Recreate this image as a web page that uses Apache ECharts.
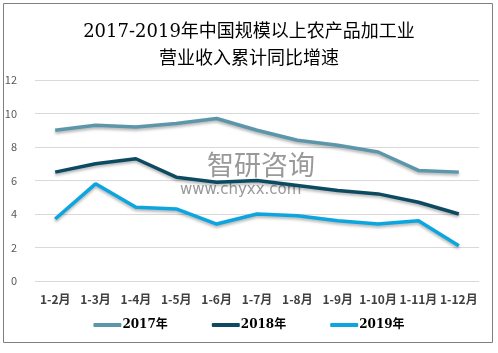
<!DOCTYPE html>
<html>
<head>
<meta charset="utf-8">
<script src="https://cdn.jsdelivr.net/npm/echarts@6/dist/echarts.min.js"></script>
<style>
html, body { margin: 0; padding: 0; background: #fff; }
#main { width: 498px; height: 353px; }
</style>
</head>
<body>
<div id="main"></div>
<script>
var myChart = echarts.init(document.getElementById('main'));

var months = ['1-2月', '1-3月', '1-4月', '1-5月', '1-6月', '1-7月', '1-8月', '1-9月', '1-10月', '1-11月', '1-12月'];
var data2017 = [9.0, 9.3, 9.2, 9.4, 9.7, 9.0, 8.4, 8.1, 7.7, 6.6, 6.5];
var data2018 = [6.5, 7.0, 7.3, 6.2, 5.9, 6.0, 5.7, 5.4, 5.2, 4.7, 4.0];
var data2019 = [3.7, 5.8, 4.4, 4.3, 3.4, 4.0, 3.9, 3.6, 3.4, 3.6, 2.1];

var color = ['#5b96ab', '#0c4a62', '#0ba6e0'];

function lineSeries(name, data, c) {
    return {
        name: name,
        type: 'line',
        data: data,
        symbol: 'none',
        lineStyle: {
            color: c,
            width: 3.5,
            shadowColor: 'rgba(0,0,0,0.3)',
            shadowBlur: 3,
            shadowOffsetY: 2
        },
        itemStyle: { color: c }
    };
}

option = {
    backgroundColor: '#ffffff',
    color: color,
    title: {
        text: '2017-2019年中国规模以上农产品加工业\n营业收入累计同比增速',
        left: 'center',
        top: 14,
        textStyle: {
            color: '#000000',
            fontFamily: 'DejaVu Serif, Noto Sans CJK SC',
            fontSize: 18,
            fontWeight: 'normal',
            lineHeight: 27
        }
    },
    graphic: [
        {
            type: 'rect',
            shape: { x: 3.5, y: 3.5, width: 489, height: 339 },
            style: { fill: 'none', stroke: '#7f7f7f', lineWidth: 1 },
            silent: true
        },
        {
            type: 'text',
            left: 207,
            top: 151,
            style: { text: '智研咨询', fill: 'rgba(110,110,110,0.7)', font: '27px Noto Sans CJK SC' },
            silent: true
        },
        {
            type: 'text',
            left: 180,
            top: 183,
            style: { text: 'www.chyxx.com', fill: 'rgba(110,110,110,0.7)', font: '15px DejaVu Sans' },
            silent: true
        }
    ],
    legend: {
        bottom: 17,
        left: 'center',
        itemWidth: 28,
        itemHeight: 4,
        itemGap: 44,
        icon: 'roundRect',
        data: ['2017年', '2018年', '2019年'],
        textStyle: {
            color: '#000000',
            fontFamily: 'DejaVu Serif, Noto Sans CJK SC',
            fontWeight: 'bold',
            fontSize: 12,
            padding: [0, 0, 0, -4]
        }
    },
    grid: {
        left: 35,
        right: 19,
        top: 80,
        bottom: 72
    },
    xAxis: {
        type: 'category',
        data: months,
        boundaryGap: true,
        axisLine: { show: false },
        axisTick: { show: false },
        axisLabel: {
            interval: 0,
            margin: 12,
            color: '#404040',
            fontWeight: 'bold',
            fontSize: 12,
            fontFamily: 'Noto Sans CJK SC'
        }
    },
    yAxis: {
        type: 'value',
        min: 0,
        max: 12,
        interval: 2,
        axisLine: { show: false },
        axisTick: { show: false },
        axisLabel: {
            color: '#595959',
            fontSize: 11,
            margin: 18,
            fontFamily: 'Noto Sans CJK SC'
        },
        splitLine: { lineStyle: { color: '#d9d9d9', width: 1 } }
    },
    series: [
        lineSeries('2017年', data2017, color[0]),
        lineSeries('2018年', data2018, color[1]),
        lineSeries('2019年', data2019, color[2])
    ]
};

myChart.setOption(option);
</script>
</body>
</html>
